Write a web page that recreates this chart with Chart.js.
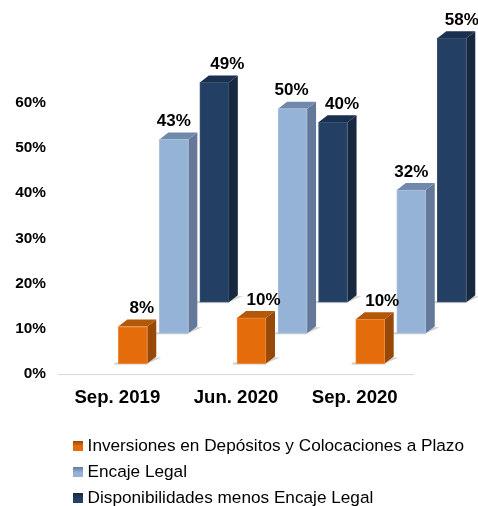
<!DOCTYPE html>
<html>
<head>
<meta charset="utf-8">
<script src="https://cdn.jsdelivr.net/npm/chart.js@4/dist/chart.umd.min.js"></script>
<style>
  html, body { margin: 0; padding: 0; background: #fff; }
  #wrap { width: 478px; height: 506px; }
</style>
</head>
<body>
<div id="wrap"><canvas id="chart"></canvas></div>
<script>
const categories = ["Sep. 2019", "Jun. 2020", "Sep. 2020"];
const seriesNames = [
  "Inversiones en Depósitos y Colocaciones a Plazo",
  "Encaje Legal",
  "Disponibilidades menos Encaje Legal",
];
const inversiones = [8.2, 10.1, 9.8];
const encaje = [42.9, 49.7, 31.7];
const disponibilidades = [48.6, 39.8, 58.4];
const yTicks = [0, 10, 20, 30, 40, 50, 60];

// the original is a 3D column chart, each series sits further back and higher up
const depthBase = [2.3, 9.0, 15.9];
const depthShift = [0.13, 0.476, 0.817];
const labelNudge = [[9, 12, 12], [0, -1, 0], [13, 9, 10]];
const DEPTH_X = 9;
const DEPTH_Y = 7;

const faces = ["#E46C0A", "#95B3D7", "#233F63"];
const sides = ["#984807", "#64799A", "#18293F"];
const tops = ["#B25808", "#7088AB", "#1B2F4E"];
const edges = ["#EE8A3C", "#AEBFD6", "#3A5272"];

const fontFamily = "'Liberation Sans', Arial, sans-serif";

function swatch(i) {
  const c = document.createElement("canvas");
  c.width = 10;
  c.height = 10;
  const g = c.getContext("2d");
  const grad = g.createLinearGradient(0, 0, 0, 10);
  grad.addColorStop(0, sides[i]);
  grad.addColorStop(0.5, faces[i]);
  grad.addColorStop(1, faces[i]);
  g.fillStyle = grad;
  g.fillRect(0, 0, 10, 10);
  return c;
}

const depthBars = {
  id: "depthBars",
  beforeDatasetsDraw(chart) {
    const ctx = chart.ctx;
    ctx.save();
    // baseline, stops short of the last column like the original
    const x = chart.scales.x;
    const y0 = chart.scales.y.getPixelForValue(0);
    ctx.strokeStyle = "#D9D9D9";
    ctx.lineWidth = 1;
    ctx.beginPath();
    ctx.moveTo(x.getPixelForValue(-0.5), y0 + 0.5);
    ctx.lineTo(x.getPixelForValue(2.5), y0 + 0.5);
    ctx.stroke();

    chart.data.datasets.forEach((ds, d) => {
      chart.getDatasetMeta(d).data.forEach((bar) => {
        const right = bar.x + bar.width / 2;
        const left = bar.x - bar.width / 2;
        const bottom = bar.base;
        // floor shadow
        ctx.fillStyle = "rgba(120,120,120,0.35)";
        ctx.beginPath();
        ctx.moveTo(right, bottom);
        ctx.lineTo(right + 14, bottom - 6);
        ctx.lineTo(right + 6, bottom - 6);
        ctx.closePath();
        ctx.fill();
        ctx.fillRect(left - 4, bottom - 1, bar.width + 4, 2);
        // side face
        ctx.fillStyle = sides[d];
        ctx.beginPath();
        ctx.moveTo(right, bar.y);
        ctx.lineTo(right + DEPTH_X, bar.y - DEPTH_Y);
        ctx.lineTo(right + DEPTH_X, bottom - DEPTH_Y);
        ctx.lineTo(right, bottom);
        ctx.closePath();
        ctx.fill();
        // top face
        ctx.fillStyle = tops[d];
        ctx.beginPath();
        ctx.moveTo(left, bar.y);
        ctx.lineTo(left + DEPTH_X, bar.y - DEPTH_Y);
        ctx.lineTo(right + DEPTH_X, bar.y - DEPTH_Y);
        ctx.lineTo(right, bar.y);
        ctx.closePath();
        ctx.fill();
      });
    });
    ctx.restore();
  },
  afterDatasetsDraw(chart) {
    const ctx = chart.ctx;
    ctx.save();
    ctx.font = "bold 17px " + fontFamily;
    ctx.fillStyle = "#000";
    ctx.textAlign = "center";
    ctx.textBaseline = "middle";
    chart.data.datasets.forEach((ds, d) => {
      chart.getDatasetMeta(d).data.forEach((bar, i) => {
        ctx.fillText(Math.round(ds.values[i]) + "%", bar.x + labelNudge[d][i], bar.y - 18);
      });
    });
    ctx.restore();
  },
};

const seriesValues = [inversiones, encaje, disponibilidades];

new Chart(document.getElementById("chart"), {
  type: "bar",
  data: {
    datasets: seriesValues.map((values, d) => ({
      label: seriesNames[d],
      values: values,
      data: values.map((v, i) => ({ x: i + depthShift[d], y: [depthBase[d], depthBase[d] + v] })),
      backgroundColor: faces[d],
      borderColor: edges[d],
      borderWidth: 1,
      borderSkipped: false,
      barThickness: 29,
      grouped: false,
    })),
  },
  plugins: [depthBars],
  options: {
    responsive: true,
    maintainAspectRatio: false,
    animation: false,
    layout: { padding: { top: 0, right: 0, bottom: -11, left: 0 } },
    plugins: {
      tooltip: { enabled: false },
      legend: {
        position: "bottom",
        align: "start",
        fullSize: false,
        labels: {
          usePointStyle: true,
          pointStyleWidth: 2,
          padding: 9,
          color: "#000",
          font: { family: fontFamily, size: 17.2 },
          generateLabels(chart) {
            return chart.data.datasets.map((ds, d) => ({
              text: ds.label,
              pointStyle: swatch(d),
              fontColor: "#000",
              datasetIndex: d,
              lineWidth: 0,
            }));
          },
        },
      },
    },
    scales: {
      x: {
        type: "linear",
        offset: false,
        min: -0.4156,
        max: 3.038,
        grid: { display: false },
        border: { display: false },
        afterBuildTicks(scale) {
          scale.ticks = categories.map((c, i) => ({ value: i }));
        },
        afterFit(scale) {
          scale.height = 54.4;
        },
        ticks: {
          autoSkip: false,
          maxRotation: 0,
          padding: 5,
          color: "#000",
          font: { family: fontFamily, size: 18.6, weight: "bold" },
          callback: (v) => categories[v],
        },
      },
      y: {
        min: 0,
        max: 77.6,
        grid: { display: false },
        border: { display: false },
        afterBuildTicks(scale) {
          scale.ticks = yTicks.map((v) => ({ value: v }));
        },
        afterFit(scale) {
          scale.width = 68;
        },
        ticks: {
          padding: 14,
          color: "#000",
          font: { family: fontFamily, size: 15.4, weight: "bold" },
          callback: (v) => v + "%",
        },
      },
    },
  },
});
</script>
</body>
</html>
